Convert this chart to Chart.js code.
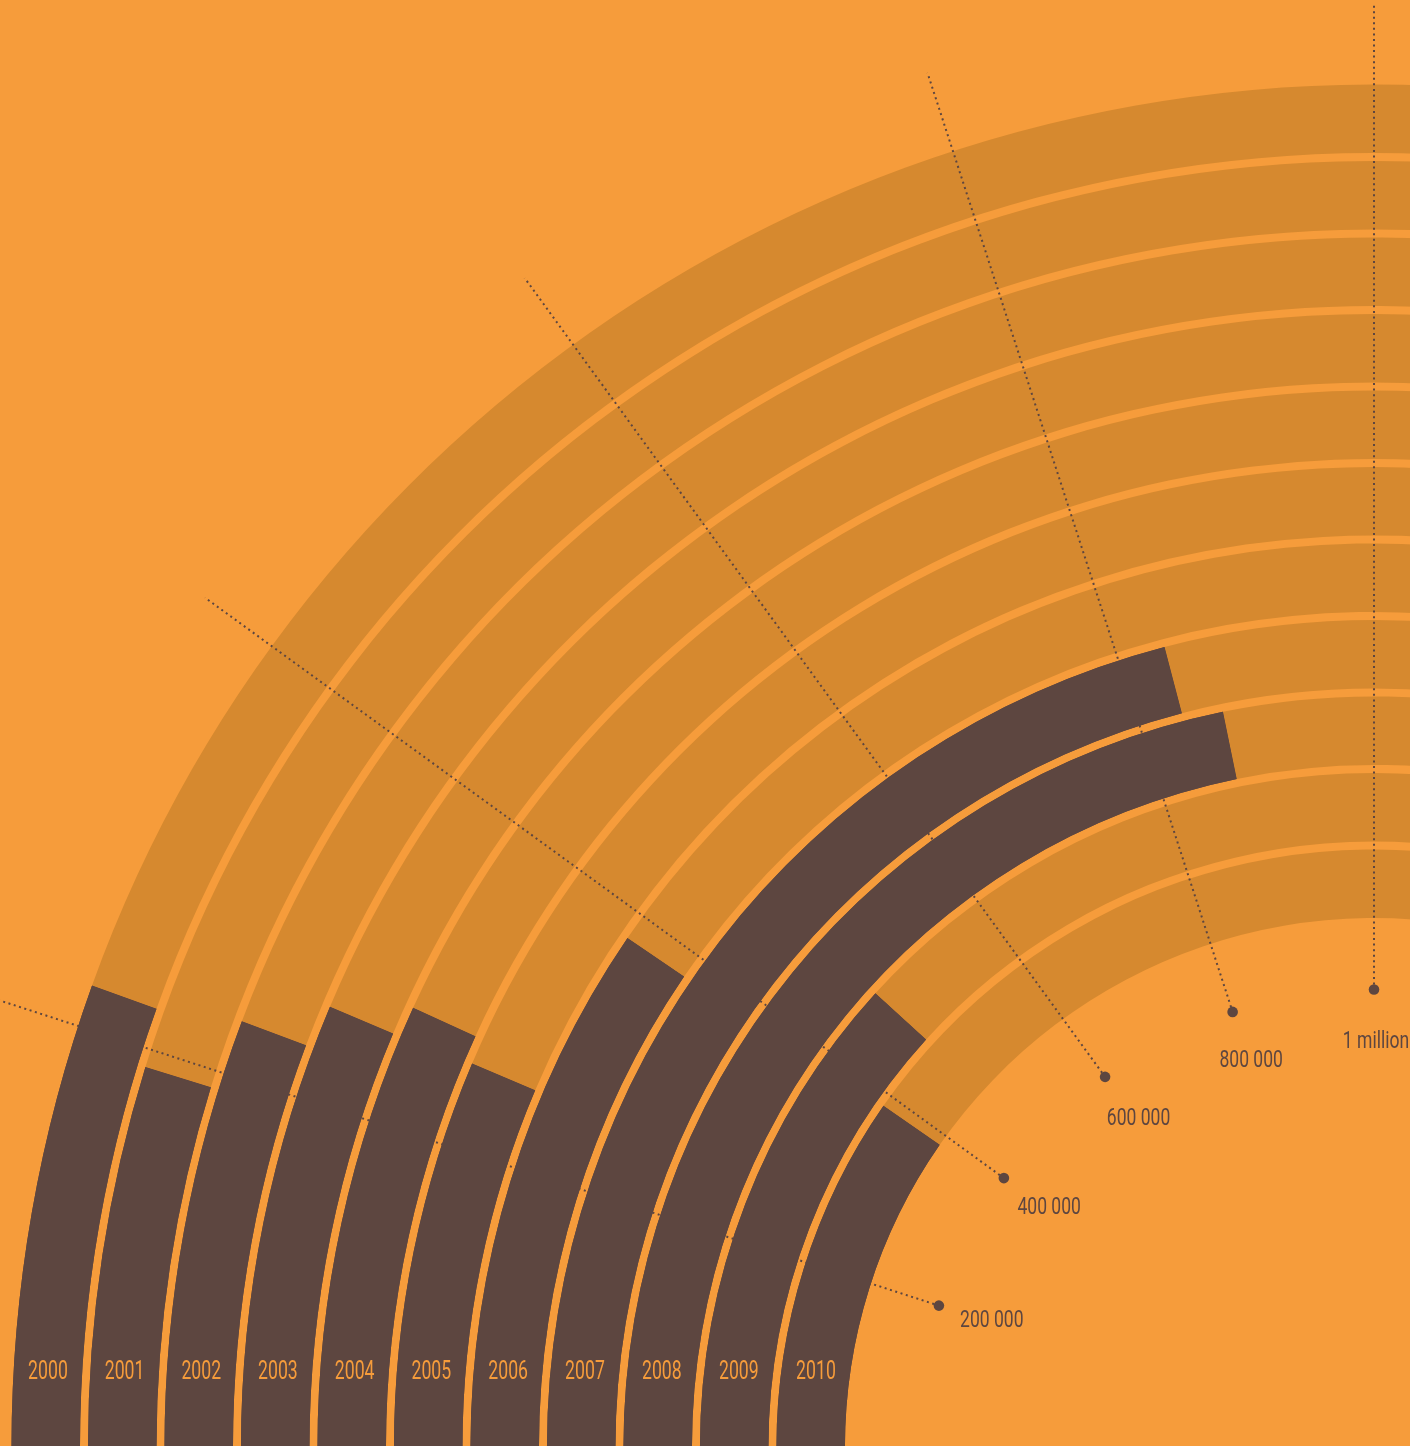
<!doctype html>
<html lang="en">
  <head>
    <meta charset="UTF-8" />
    <title>Yearly totals 2000-2010</title>
    <script src="https://cdn.jsdelivr.net/npm/chart.js"></script>
    <style>
      html,
      body {
        margin: 0;
        padding: 0;
        width: 1410px;
        height: 1446px;
        overflow: hidden;
        background: #f69c3b;
      }
      #wrap {
        position: absolute;
        left: 0;
        top: 0;
      }
    </style>
  </head>
  <body>
    <!-- canvas is twice the visible size so the ring centre sits near the bottom right -->
    <div id="wrap"><canvas id="rings" width="2748" height="2894"></canvas></div>
    <script>
      // data, outer ring first
      const years = ["2000", "2001", "2002", "2003", "2004", "2005", "2006", "2007", "2008", "2009", "2010"];
      const values = [220000, 191000, 229000, 254000, 273000, 256000, 381000, 837000, 871000, 470000, 387000];
      const tickValues = [200000, 400000, 600000, 800000, 1000000];
      const tickLabels = ["200 000", "400 000", "600 000", "800 000", "1 million"];
      const quarterTurn = 1000000; // 1 million = 90 degrees

      const dark = "#5d4640";
      const track = "#d6892f";
      const orange = "#f69c3b";

      // one ring per year, with thin empty rings in between as gaps
      const datasets = [];
      years.forEach((year, i) => {
        if (i > 0) {
          datasets.push({
            data: [1],
            backgroundColor: ["rgba(0,0,0,0)"],
            weight: 8 / 68.5,
          });
        }
        datasets.push({
          label: year,
          isRing: true,
          data: [values[i], 2 * quarterTurn - values[i], 2 * quarterTurn],
          backgroundColor: [dark, track, "rgba(0,0,0,0)"],
          weight: 1,
        });
      });

      // helper: draw condensed text by squeezing it horizontally
      function squeezedText(ctx, text, x, y, size, squeeze, color) {
        ctx.save();
        ctx.font = `400 ${size}px Roboto, "Liberation Sans", sans-serif`;
        ctx.fillStyle = color;
        ctx.textAlign = "center";
        ctx.textBaseline = "alphabetic";
        ctx.translate(x, y);
        ctx.scale(squeeze, 1);
        ctx.fillText(text, 0, 0);
        ctx.restore();
      }

      const overlay = {
        id: "overlay",
        afterDatasetsDraw(chart) {
          const ctx = chart.ctx;
          const rings = chart.data.datasets
            .map((ds, i) => ({ ds, meta: chart.getDatasetMeta(i) }))
            .filter((r) => r.ds.isRing);
          const first = rings[0].meta.data[0];
          const cx = first.x;
          const cy = first.y;
          const start = first.startAngle;
          const total = rings[0].meta.total;
          const angleOf = (v) => start + (v / total) * Math.PI * 2;

          // dotted guide lines sit on the track but under the bars
          ctx.save();
          ctx.strokeStyle = dark;
          ctx.lineWidth = 2;
          ctx.setLineDash([2, 3.55]);
          tickValues.forEach((t) => {
            const a = angleOf(t);
            ctx.beginPath();
            ctx.moveTo(cx + Math.cos(a) * 457, cy + Math.sin(a) * 457);
            ctx.lineTo(cx + Math.cos(a) * 1445, cy + Math.sin(a) * 1445);
            ctx.stroke();
          });
          ctx.restore();

          // bars again, on top of the lines
          rings.forEach((r) => r.meta.data[0].draw(ctx));

          // dots and tick labels
          tickValues.forEach((t, i) => {
            const a = angleOf(t);
            ctx.beginPath();
            ctx.fillStyle = dark;
            ctx.arc(cx + Math.cos(a) * 457.5, cy + Math.sin(a) * 457.5, 5.3, 0, Math.PI * 2);
            ctx.fill();
            const lx = cx + Math.cos(a) * 404 + 2;
            const ly = cy + Math.sin(a) * 404 - 4;
            squeezedText(ctx, tickLabels[i], lx, ly + 8.5, 24, 0.73, dark);
          });

          // year labels near the start of each bar
          rings.forEach((r) => {
            const arc = r.meta.data[0];
            const mid = (arc.innerRadius + arc.outerRadius) / 2;
            const lx = cx - Math.sqrt(mid * mid - 77 * 77);
            squeezedText(ctx, r.ds.label, lx, cy - 68, 26, 0.68, orange);
          });
        },
      };

      new Chart(document.getElementById("rings"), {
        type: "doughnut",
        data: { labels: ["value", "track", "rest"], datasets },
        options: {
          responsive: false,
          animation: false,
          devicePixelRatio: 1,
          events: [],
          rotation: 270,
          circumference: 360,
          radius: 1362.5,
          cutout: "38.83%",
          borderWidth: 0,
          hoverOffset: 0,
          plugins: {
            legend: { display: false },
            tooltip: { enabled: false },
          },
        },
        plugins: [overlay],
      });
    </script>
  </body>
</html>
